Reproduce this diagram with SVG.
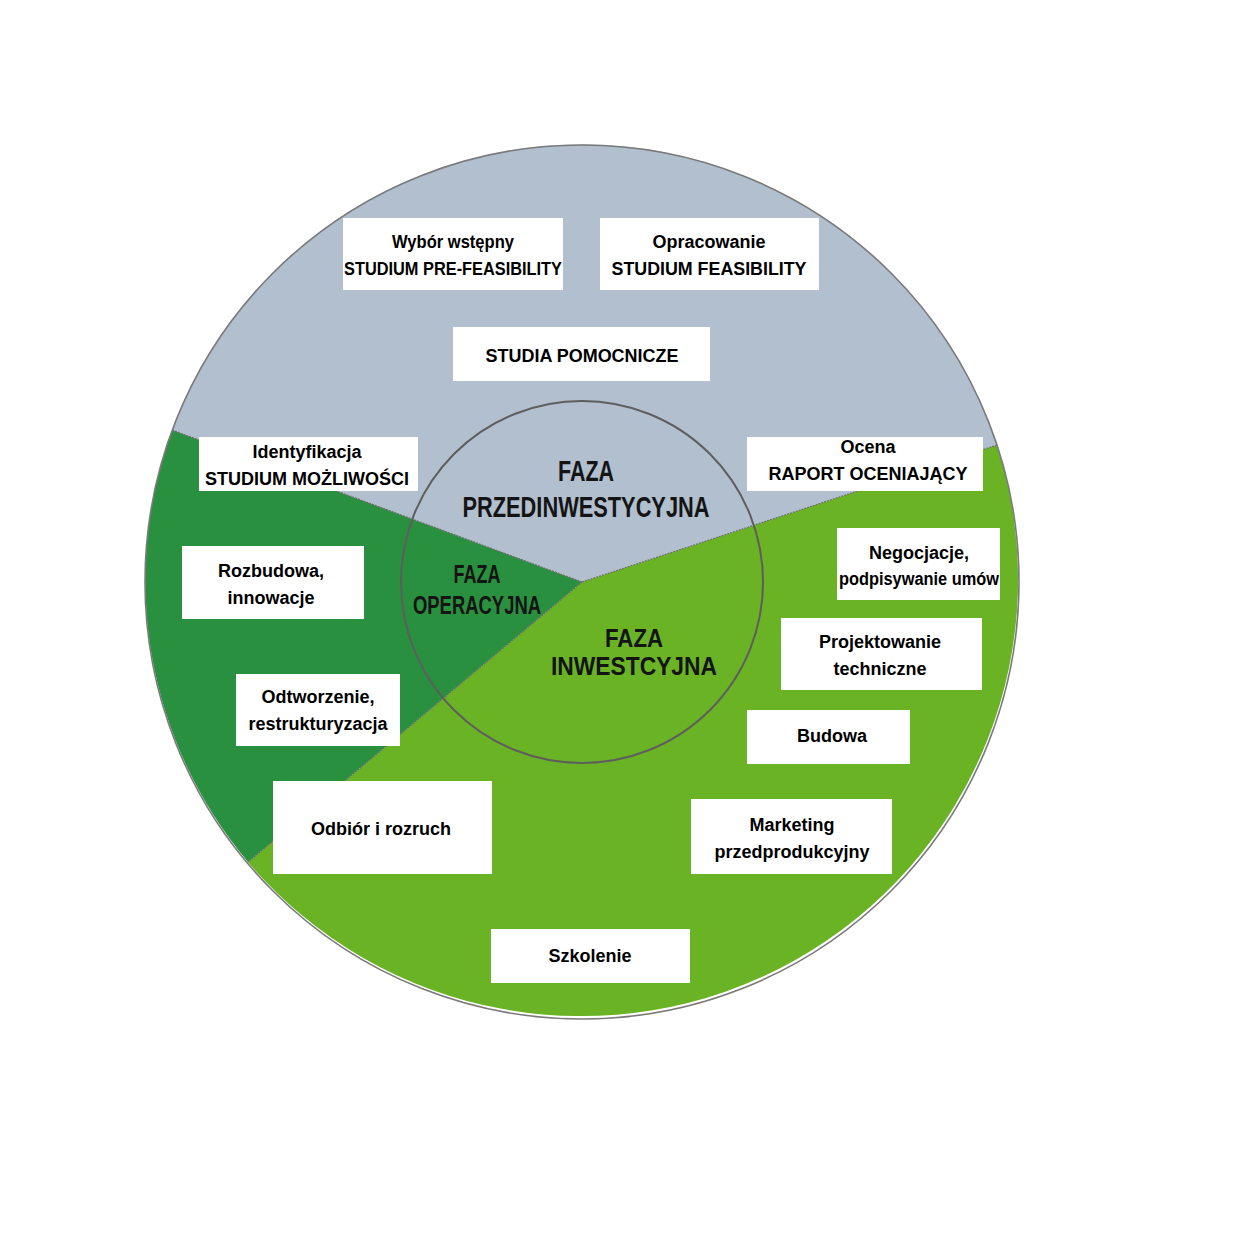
<svg xmlns="http://www.w3.org/2000/svg" width="1250" height="1250" viewBox="0 0 1250 1250">
<style>
.box{fill:#ffffff}
.t{font-family:"Liberation Sans",Arial,sans-serif;font-weight:bold;font-size:18px;fill:#000;text-anchor:middle}
.c{font-family:"Liberation Sans",Arial,sans-serif;font-weight:bold;fill:#141414;text-anchor:middle}
.sep{fill:none;stroke:#6e6e6e;stroke-width:1.2;stroke-dasharray:2 1}
</style>
<rect width="1250" height="1250" fill="#ffffff"/>
<g id="sectors">
<path d="M582,582 L172,430 A437,437 0 0 1 997,445 Z" fill="#B1BFCF"/>
<path d="M582,582 L997,445 A437,437 0 0 1 248,862 Z" fill="#6AB324"/>
<path d="M582,582 L248,862 A437,437 0 0 1 172,430 Z" fill="#299040"/>
<line class="sep" x1="582" y1="582" x2="172" y2="430"/>
<line class="sep" x1="582" y1="582" x2="997" y2="445"/>
<line class="sep" x1="582" y1="582" x2="248" y2="862" stroke="#5a8a50"/>
<circle cx="582" cy="582" r="437" fill="none" stroke="#7a7a7a" stroke-width="1.6"/>
<circle cx="582" cy="582" r="181" fill="none" stroke="#5e5e5e" stroke-width="2"/>
</g>
<g id="phase-pre">
<text class="c" x="586" y="481" font-size="29" textLength="56" lengthAdjust="spacingAndGlyphs">FAZA</text>
<text class="c" x="586" y="517" font-size="30" textLength="247" lengthAdjust="spacingAndGlyphs">PRZEDINWESTYCYJNA</text>
</g>
<g id="phase-op">
<text class="c" x="477" y="583" font-size="25" textLength="47" lengthAdjust="spacingAndGlyphs">FAZA</text>
<text class="c" x="477" y="614" font-size="25" textLength="128" lengthAdjust="spacingAndGlyphs">OPERACYJNA</text>
</g>
<g id="phase-inv">
<text class="c" x="634" y="647" font-size="26" textLength="58" lengthAdjust="spacingAndGlyphs">FAZA</text>
<text class="c" x="634" y="675" font-size="26" textLength="166" lengthAdjust="spacingAndGlyphs">INWESTCYJNA</text>
</g>
<g id="n-prefeas">
<rect class="box" x="343" y="218" width="220" height="72"/>
<text class="t" x="453" y="248" textLength="122" lengthAdjust="spacingAndGlyphs">Wybór wstępny</text>
<text class="t" x="453" y="275" textLength="218" lengthAdjust="spacingAndGlyphs">STUDIUM PRE-FEASIBILITY</text>
</g>
<g id="n-feas">
<rect class="box" x="600" y="218" width="219" height="72"/>
<text class="t" x="709" y="248">Opracowanie</text>
<text class="t" x="709" y="275" textLength="195" lengthAdjust="spacingAndGlyphs">STUDIUM FEASIBILITY</text>
</g>
<g id="n-pomoc">
<rect class="box" x="453" y="327" width="257" height="54"/>
<text class="t" x="582" y="362" textLength="193" lengthAdjust="spacingAndGlyphs">STUDIA POMOCNICZE</text>
</g>
<g id="n-ident">
<rect class="box" x="199" y="437" width="219" height="54"/>
<text class="t" x="307" y="458">Identyfikacja</text>
<text class="t" x="307" y="485" textLength="204" lengthAdjust="spacingAndGlyphs">STUDIUM MOŻLIWOŚCI</text>
</g>
<g id="n-ocena">
<rect class="box" x="747" y="437" width="236" height="54"/>
<text class="t" x="868" y="453">Ocena</text>
<text class="t" x="868" y="480">RAPORT OCENIAJĄCY</text>
</g>
<g id="n-negoc">
<rect class="box" x="837" y="528" width="163" height="72"/>
<text class="t" x="919" y="559">Negocjacje,</text>
<text class="t" x="919" y="585" textLength="160" lengthAdjust="spacingAndGlyphs">podpisywanie umów</text>
</g>
<g id="n-rozbud">
<rect class="box" x="182" y="546" width="182" height="73"/>
<text class="t" x="271" y="577">Rozbudowa,</text>
<text class="t" x="271" y="604">innowacje</text>
</g>
<g id="n-projekt">
<rect class="box" x="781" y="618" width="201" height="72"/>
<text class="t" x="880" y="648">Projektowanie</text>
<text class="t" x="880" y="675">techniczne</text>
</g>
<g id="n-odtw">
<rect class="box" x="236" y="674" width="164" height="72"/>
<text class="t" x="318" y="703">Odtworzenie,</text>
<text class="t" x="318" y="730">restrukturyzacja</text>
</g>
<g id="n-budowa">
<rect class="box" x="747" y="710" width="163" height="54"/>
<text class="t" x="832" y="742">Budowa</text>
</g>
<g id="n-odbior">
<rect class="box" x="273" y="781" width="219" height="93"/>
<text class="t" x="381" y="835">Odbiór i rozruch</text>
</g>
<g id="n-market">
<rect class="box" x="691" y="799" width="201" height="75"/>
<text class="t" x="792" y="831">Marketing</text>
<text class="t" x="792" y="858">przedprodukcyjny</text>
</g>
<g id="n-szkol">
<rect class="box" x="491" y="929" width="199" height="54"/>
<text class="t" x="590" y="962">Szkolenie</text>
</g>
</svg>
